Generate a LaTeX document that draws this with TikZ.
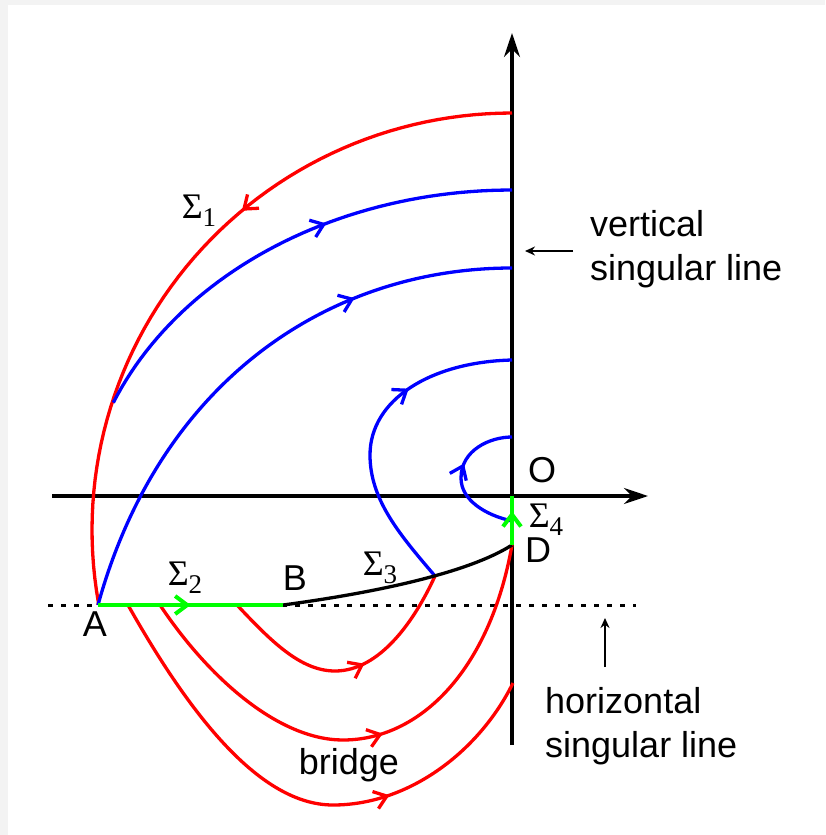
\documentclass[tikz,border=0pt]{standalone}
\usepackage{fontspec}
\setmainfont{Liberation Sans}
\newfontfamily\sigfont{Liberation Serif}
\usetikzlibrary{arrows.meta, decorations.markings}
\definecolor{cred}{RGB}{255,0,0}
\definecolor{cblue}{RGB}{0,0,255}
\definecolor{cgreen}{RGB}{0,255,0}
\definecolor{cback}{HTML}{F3F3F3}
\newcommand{\sigl}[1]{{\sigfont Σ\raisebox{-0.22em}{\fontsize{27}{27}\selectfont #1}}}
\tikzset{
  every picture/.style={font=\fontsize{36}{44}\selectfont},
  traj/.style={color=#1, line width=3.3pt},
  flow/.style={postaction={decorate}, decoration={markings,
      mark=at position #1 with {\arrow{Straight Barb[length=12pt,width=18pt]}}}},
  axis/.style={line width=3.3pt, -{Stealth[length=24pt,width=16pt]}},
  pointer/.style={line width=2.4pt, -{Stealth[length=10pt,width=9pt]}},
  singular/.style={line width=3pt, dash pattern=on 5pt off 8pt},
  lbl/.style={inner sep=0pt},
}

\begin{document}
\begin{tikzpicture}[x=1pt, y=-1pt]
  % page
  \fill[cback] (0,0) rectangle (825,835);
  \fill[white] (8,5) rectangle (825,835);
  % points
  \coordinate (A) at (98,605);
  \coordinate (B) at (283,605);
  \coordinate (D) at (512,545);
  \coordinate (O) at (512,496);
  \coordinate (J) at (435,576);
  \coordinate (ytop) at (512,33);
  \coordinate (ybot) at (512,745);
  \coordinate (xleft) at (52,496);
  \coordinate (xright) at (648,496);
  % axes and singular lines
  \draw[axis] (ybot) -- (ytop);
  \draw[axis] (xleft) -- (xright);
  \draw[singular] (48,605) -- (636,605);
  % upper trajectories
  \draw[traj=cred, flow=0.4] plot[domain=0:100, samples=60] ({512+420*cos(270-\x)}, {530+417*sin(270-\x)}) -- (A);
  \draw[traj=cblue, flow=0.6] plot[domain=202:270, samples=50] ({512+430*cos(\x)}, {530+340*sin(\x)});
  \draw[traj=cblue, flow=0.72] (A) .. controls (160,380) and (330,268) .. (512,268);
  \draw[traj=cblue, flow=0.67] (J) .. controls (400,535) and (370,500) .. (370,455)
    .. controls (370,400) and (430,362) .. (512,360);
  \draw[traj=cblue, flow=0.6] (512,521) .. controls (485,515) and (461,500) .. (461,478)
    .. controls (461,450) and (490,437) .. (512,437);
  % lower trajectories
  \draw[traj=cred, flow=0.675] (128,605) .. controls (190,715) and (260,805) .. (333,805)
    .. controls (410,805) and (480,750) .. (513,683);
  \draw[traj=cred, flow=0.535] (160,605) .. controls (210,680) and (280,740) .. (343,740)
    .. controls (420,740) and (490,670) .. (D);
  \draw[traj=cred, flow=0.57] (237,605) .. controls (270,640) and (300,671) .. (335,671)
    .. controls (380,671) and (415,620) .. (J);
  % separatrices
  \draw[line width=3.3pt] (B) .. controls (380,592) and (470,572) .. (D);
  \draw[traj=cgreen, line width=4pt, flow=0.5] (A) -- (B);
  \draw[traj=cgreen, line width=4pt, flow=0.69] (D) -- (O);
  % labels
  \node[lbl] (labA) at (95,624) {A};
  \node[lbl] (labB) at (295,578) {B};
  \node[lbl] (labD) at (538,550) {D};
  \node[lbl] (labO) at (542,470) {O};
  \node[lbl] (sig1) at (199,211) {\sigl{1}};
  \node[lbl] (sig2) at (185,578) {\sigl{2}};
  \node[lbl] (sig3) at (380,568) {\sigl{3}};
  \node[lbl] (sig4) at (546,520) {\sigl{4}};
  \node[lbl, anchor=base] (bridge) at (349,774) {bridge};
  \node[lbl, anchor=base west, align=left] (vlab) at (590,280) {vertical\\singular line};
  \node[lbl, anchor=base west, align=left] (hlab) at (545,757) {horizontal\\singular line};
  \coordinate (vtip) at (525,251);
  \coordinate (htip) at (605,618);
  \draw[pointer] (573,251) -- (vtip);
  \draw[pointer] (605,667) -- (htip);
\end{tikzpicture}
\end{document}
